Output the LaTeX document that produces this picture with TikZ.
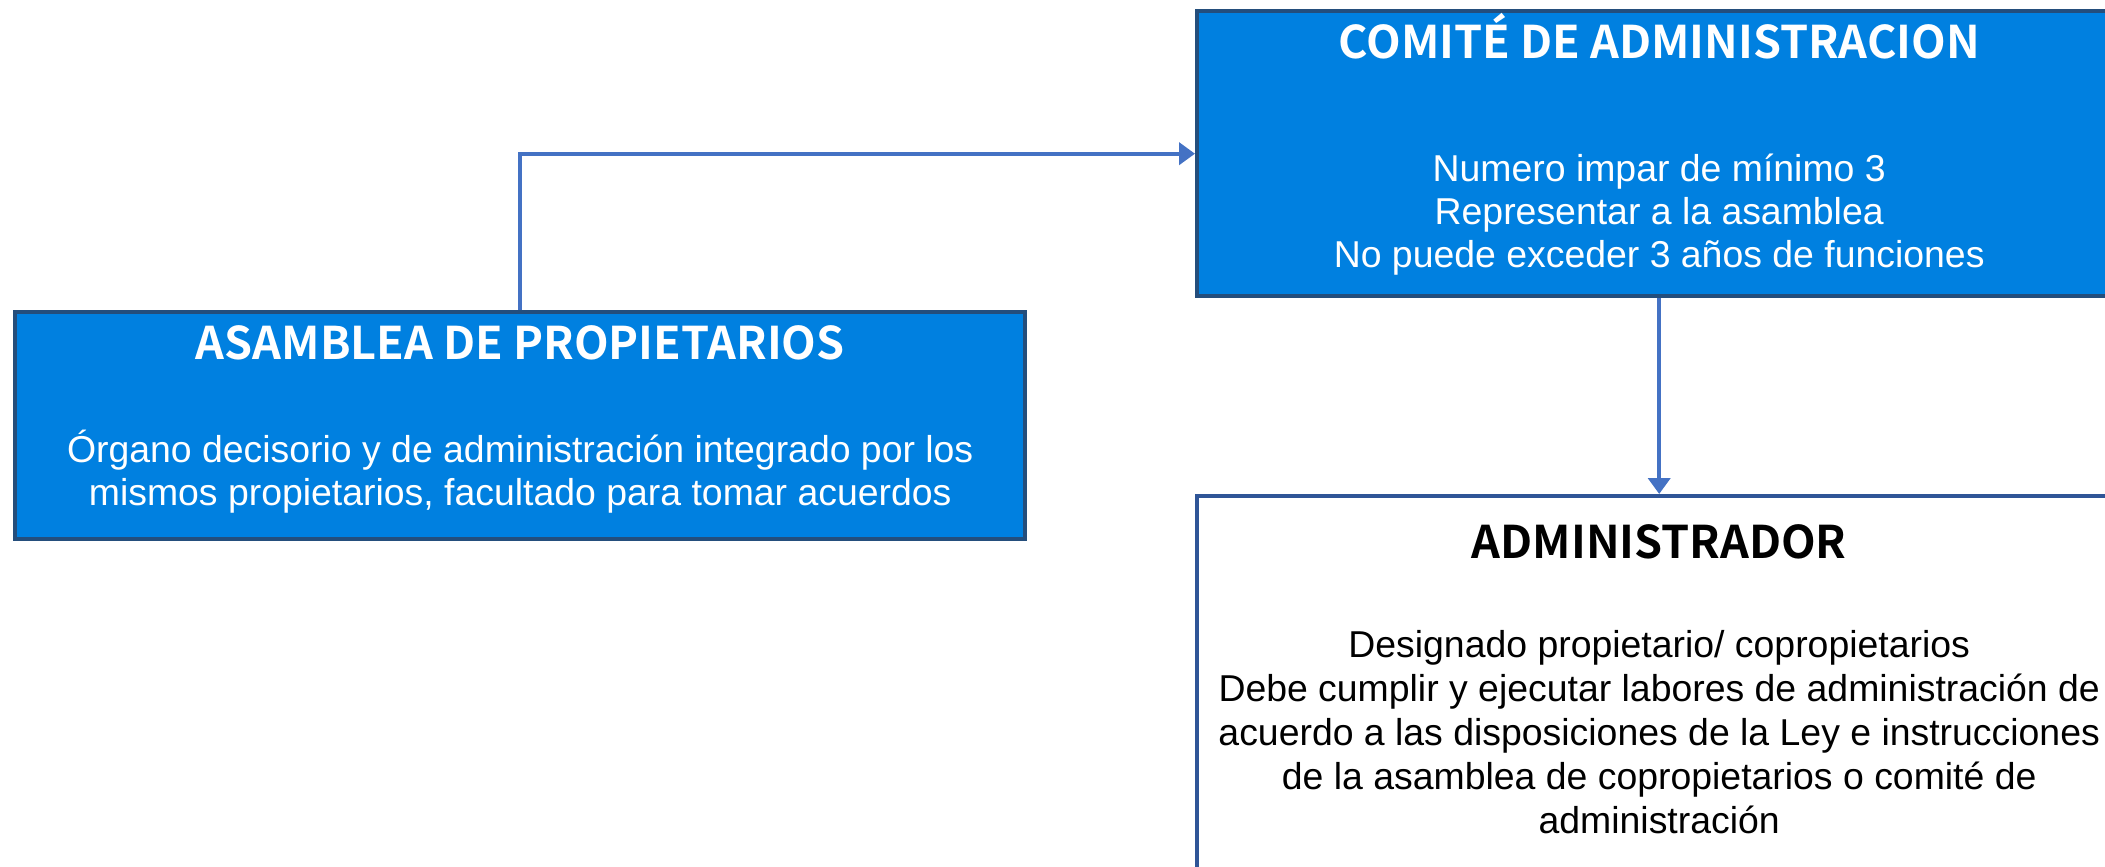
\documentclass[tikz,border=0pt]{standalone}
\usepackage{fontspec}
\setmainfont{Liberation Sans}
\newfontfamily\titlefont{Noto Sans CJK JP}[BoldFont=Noto Sans CJK JP Bold]
\usepackage{xcolor}
\usetikzlibrary{positioning, arrows.meta}

\definecolor{boxblue}{RGB}{0,128,224}
\definecolor{boxedge}{RGB}{36,78,124}
\definecolor{adminedge}{RGB}{47,85,151}
\definecolor{linkblue}{RGB}{68,114,196}

\tikzset{
  bluebox/.style={draw=boxedge, fill=boxblue, line width=2.2pt, rectangle, anchor=north west},
  whitebox/.style={draw=adminedge, fill=white, line width=2.2pt, rectangle, anchor=north west},
  titletext/.style={font=\titlefont\bfseries\fontsize{22.5}{26}\selectfont, anchor=base, inner sep=0pt},
  bodytext/.style={font=\fontsize{18.7}{21.5}\selectfont, align=center, anchor=base, inner sep=0pt},
  link/.style={draw=linkblue, line width=2pt, -{Triangle[length=8pt, width=11pt]}}
}

\begin{document}
\begin{tikzpicture}[x=0.5pt, y=-0.5pt]
\clip (0,0) rectangle (2105,867);
\fill[white] (0,0) rectangle (2105,867);
%
\node[bluebox, minimum width=505pt, minimum height=113.5pt] (asamblea) at (13,310) {};
\node[bluebox, minimum width=462pt, minimum height=142.5pt] (comite) at (1195,9) {};
\node[whitebox, minimum width=462pt, minimum height=203pt] (admin) at (1195,494) {};
%
\node[titletext, white] (asambleaTitle) at ([yshift=-24.5pt]asamblea.north) {ASAMBLEA DE PROPIETARIOS};
\node[bodytext, white] (asambleaText) at ([yshift=-97.5pt]asamblea.north)
{Órgano decisorio y de administración integrado por los\\mismos propietarios, facultado para tomar acuerdos};
%
\node[titletext, white] (comiteTitle) at ([yshift=-24.5pt]comite.north) {COMITÉ DE ADMINISTRACION};
\node[bodytext, white] (comiteText) at ([yshift=-129pt]comite.north)
{Numero impar de mínimo 3\\Representar a la asamblea\\No puede exceder 3 años de funciones};
%
\node[titletext, black] (adminTitle) at ([yshift=-32pt]admin.north) {ADMINISTRADOR};
\node[bodytext, black, font=\fontsize{18.7}{22}\selectfont] (adminText) at ([yshift=-169.5pt]admin.north)
{Designado propietario/ copropietarios\\Debe cumplir y ejecutar labores de administración de\\acuerdo a las disposiciones de la Ley e instrucciones\\de la asamblea de copropietarios o comité de\\administración};
%
\draw[link] (asamblea.north) |- (comite.west);
\draw[link] (comite.south) -- (admin.north);
\end{tikzpicture}
\end{document}
